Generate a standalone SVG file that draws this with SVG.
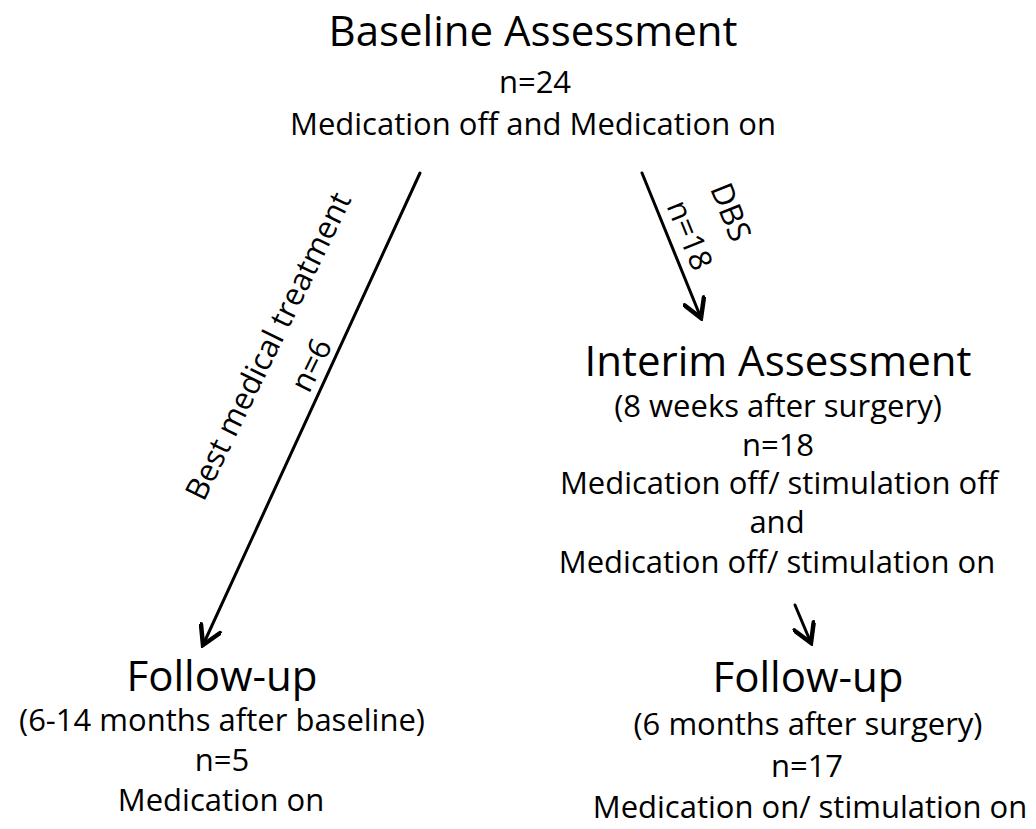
<svg xmlns="http://www.w3.org/2000/svg" width="1036" height="829" viewBox="0 0 1036 829">
<style>
text{font-family:"Open Sans","Liberation Sans",sans-serif;fill:#000;text-anchor:middle}
.h{font-size:42px}
.b{font-size:31px}
.c{stroke:#000;stroke-width:3;fill:none;stroke-linecap:round}
</style>
<defs>
<marker id="ah" markerUnits="userSpaceOnUse" markerWidth="24" markerHeight="24" refX="14" refY="8" orient="auto" viewBox="0 0 16 16">
<path d="M2,1 L14,8 L2,15" fill="none" stroke="#000" stroke-width="3" stroke-linecap="round" stroke-linejoin="miter"/>
</marker>
</defs>
<rect width="1036" height="829" fill="#fff"/>
<g id="baseline">
<text class="h" x="533" y="46">Baseline Assessment</text>
<text class="b" x="535" y="93">n=24</text>
<text class="b" x="533" y="135">Medication off and Medication on</text>
</g>
<g id="interim">
<text class="h" x="778" y="376">Interim Assessment</text>
<text class="b" x="778" y="417">(8 weeks after surgery)</text>
<text class="b" x="778" y="456">n=18</text>
<text class="b" x="779" y="494">Medication off/ stimulation off</text>
<text class="b" x="777" y="533">and</text>
<text class="b" x="777" y="573">Medication off/ stimulation on</text>
</g>
<g id="followup-left">
<text class="h" x="222" y="691">Follow-up</text>
<text class="b" x="222" y="731">(6-14 months after baseline)</text>
<text class="b" x="222" y="771">n=5</text>
<text class="b" x="221" y="811">Medication on</text>
</g>
<g id="followup-right">
<text class="h" x="808" y="692">Follow-up</text>
<text class="b" x="808" y="735">(6 months after surgery)</text>
<text class="b" x="807" y="777">n=17</text>
<text class="b" x="810" y="818">Medication on/ stimulation on</text>
</g>
<g id="connectors">
<line class="c" x1="420" y1="173" x2="203" y2="645" marker-end="url(#ah)"/>
<line class="c" x1="642" y1="173" x2="701" y2="318" marker-end="url(#ah)"/>
<line class="c" x1="795" y1="605" x2="811" y2="643" marker-end="url(#ah)"/>
<text class="b" transform="translate(268,346) rotate(-64)" y="11">Best medical treatment</text>
<text class="b" transform="translate(311,365) rotate(-64)" y="11">n=6</text>
<text class="b" transform="translate(731,212) rotate(68)" y="11">DBS</text>
<text class="b" transform="translate(690,235) rotate(68)" y="11">n=18</text>
</g>
</svg>
